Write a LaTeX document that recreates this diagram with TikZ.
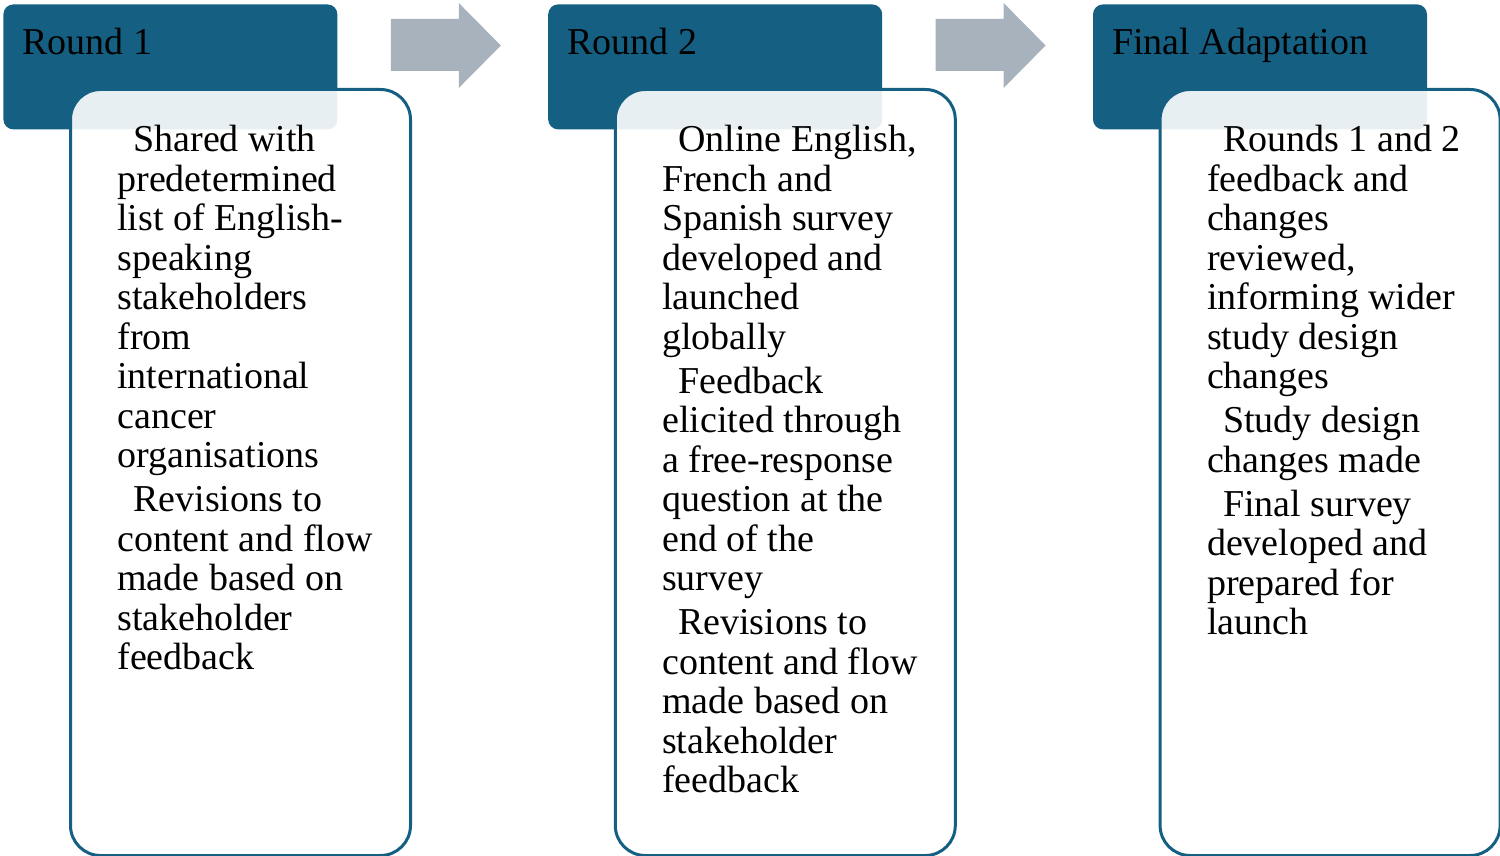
\documentclass[tikz,border=0pt]{standalone}
\usepackage{fontspec}
\setmainfont{Liberation Serif}
\usetikzlibrary{positioning,calc}
\definecolor{roundteal}{HTML}{156082}
\definecolor{arrowgrey}{HTML}{A7B2BD}
\newcommand{\leadgap}{\hspace*{8pt}}

\begin{document}
\begin{tikzpicture}[x=0.5pt, y=-0.5pt,
    header/.style = {rectangle, rounded corners=5pt, fill=roundteal, minimum width=167pt, minimum height=62.5pt, inner sep=0pt},
    body/.style = {rectangle, rounded corners=15pt, draw=roundteal, line width=1.5pt, fill=white, fill opacity=0.9, minimum width=170pt, minimum height=383pt, inner sep=0pt, anchor=north west},
    headtext/.style = {anchor=base west, inner sep=0pt, font=\fontsize{19}{19.75}\selectfont},
    bodytext/.style = {anchor=north west, inner sep=0pt, align=left, font=\fontsize{19}{19.75}\selectfont},
    blockarrow/.style = {fill=arrowgrey}]
    \useasboundingbox (0,0) rectangle (1500,856);
    % header tabs
    \node[header, anchor=north west] (h1) at (3,4) {};
    \node[header, right=105pt of h1] (h2) {};
    \node[header, right=105pt of h2] (h3) {};
    \node[headtext] (ht1) at ($(h1.north west)+(19,51)$) {Round 1};
    \node[headtext] (ht2) at ($(h2.north west)+(19,51)$) {Round 2};
    \node[headtext] (ht3) at ($(h3.north west)+(19,51)$) {Final Adaptation};
    % arrows between the tabs
    \fill[blockarrow] ($(h1.north east)+(53,15)$) -- ++(68,0) -- ++(0,-16) -- ++(42,42.5) -- ++(-42,42.5) -- ++(0,-17) -- ++(-68,0) -- cycle;
    \fill[blockarrow] ($(h2.north east)+(53,15)$) -- ++(68,0) -- ++(0,-16) -- ++(42,42.5) -- ++(-42,42.5) -- ++(0,-17) -- ++(-68,0) -- cycle;
    % content boxes
    \node[body] (b1) at ($(h1.north west)+(66,84)$) {};
    \node[body] (b2) at ($(h2.north west)+(66,84)$) {};
    \node[body] (b3) at ($(h3.north west)+(66,84)$) {};
    \node[bodytext] (t1) at ($(b1.north west)+(48,37)$) {\leadgap Shared with\\ predetermined\\ list of English-\\ speaking\\ stakeholders\\ from\\ international\\ cancer\\ organisations\\[2.2pt]
        \leadgap Revisions to\\ content and flow\\ made based on\\ stakeholder\\ feedback};
    \node[bodytext] (t2) at ($(b2.north west)+(48,37)$) {\leadgap Online English,\\ French and\\ Spanish survey\\ developed and\\ launched\\ globally\\[2.2pt]
        \leadgap Feedback\\ elicited through\\ a free-response\\ question at the\\ end of the\\ survey\\[2.2pt]
        \leadgap Revisions to\\ content and flow\\ made based on\\ stakeholder\\ feedback};
    \node[bodytext] (t3) at ($(b3.north west)+(48,37)$) {\leadgap Rounds 1 and 2\\ feedback and\\ changes\\ reviewed,\\ informing wider\\ study design\\ changes\\[2.2pt]
        \leadgap Study design\\ changes made\\[2.2pt]
        \leadgap Final survey\\ developed and\\ prepared for\\ launch};
\end{tikzpicture}
\end{document}
